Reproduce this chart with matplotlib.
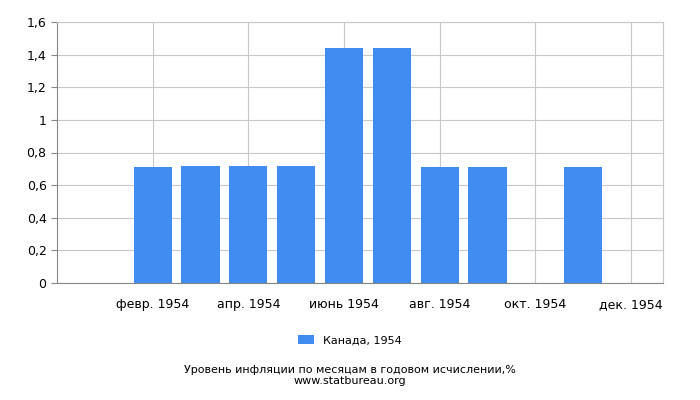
import matplotlib
matplotlib.use("Agg")
import matplotlib.pyplot as plt

months = ["янв. 1954","февр. 1954","март 1954","апр. 1954","май 1954","июнь 1954",
          "июль 1954","авг. 1954","сент. 1954","окт. 1954","нояб. 1954","дек. 1954"]
values = [0, 0.71, 0.72, 0.72, 0.72, 1.44, 1.44, 0.71, 0.71, 0, 0.71, 0]
series_name = "Канада, 1954"
yticks = [0, 0.2, 0.4, 0.6, 0.8, 1, 1.2, 1.4, 1.6]
ylabels = ["0", "0,2", "0,4", "0,6", "0,8", "1", "1,2", "1,4", "1,6"]

fig = plt.figure(figsize=(7, 4), dpi=100)
ax = fig.add_axes([57/700, 1-283/400, (663-57)/700, (283-22)/400])
x = list(range(len(months)))
ax.bar(x, values, width=0.8, color="#418cf0", zorder=3, label=series_name)
ax.set_xlim(-1.0, 11.67)
ax.set_ylim(0, 1.6)
ax.set_yticks(yticks)
ax.set_yticklabels(ylabels, fontsize=9)
tick_idx = [1, 3, 5, 7, 9, 11]
ax.set_xticks(tick_idx)
ax.set_xticklabels([months[i] for i in tick_idx], fontsize=9)
ax.grid(True, color="#c8c8c8", linewidth=0.8, zorder=0)
for s in ["top", "right"]:
    ax.spines[s].set_color("#c8c8c8")
ax.spines["left"].set_color("#888888")
ax.spines["bottom"].set_color("#888888")
ax.tick_params(axis="x", length=0, pad=11)
ax.tick_params(axis="y", length=4, color="#888888")
fig.legend(loc="center", bbox_to_anchor=(0.5, 1-340/400), frameon=False, fontsize=8,
           handlelength=1.4, handleheight=0.9)
fig.text(0.5, 1-370/400, "Уровень инфляции по месяцам в годовом исчислении,%", ha="center", va="center", fontsize=8)
fig.text(0.5, 1-381/400, "www.statbureau.org", ha="center", va="center", fontsize=8)
fig.savefig("out.png", dpi=100)
